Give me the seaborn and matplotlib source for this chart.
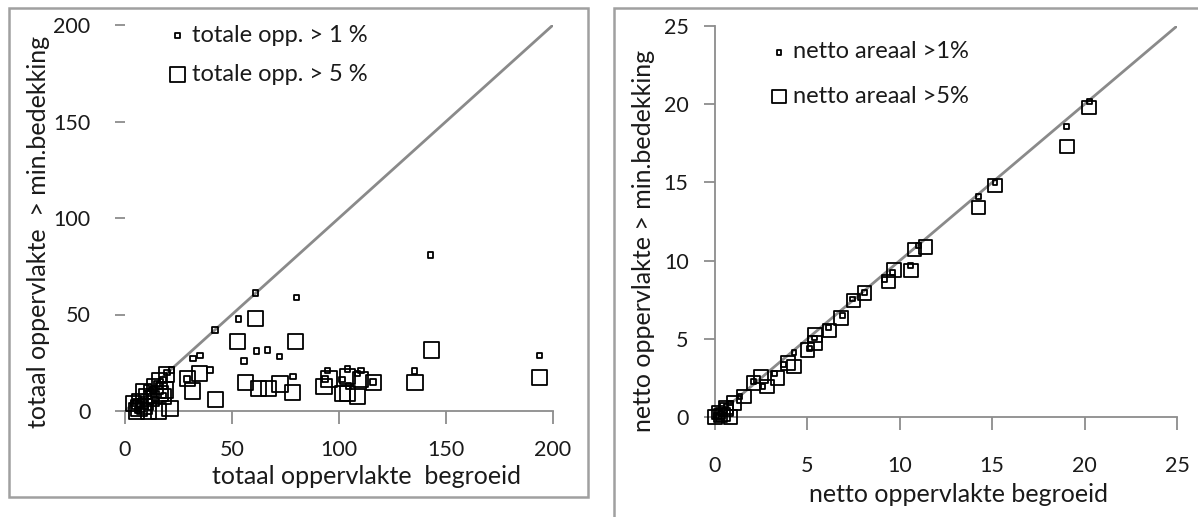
import matplotlib
matplotlib.use("Agg")
import matplotlib.pyplot as plt
import seaborn as sns
import pandas as pd
from matplotlib.patches import Rectangle

# ---------------- data ----------------
# left panel: totaal oppervlakte begroeid vs totaal oppervlakte > min.bedekking
left_x1 = [142.8, 61, 80.2, 53, 42, 61.5, 66.5, 55.6, 72.1, 31.8, 35, 78.4, 39.7, 29.1,
           94.7, 104, 110.3, 93.5, 101.5, 108.6, 116, 135.2, 104.4, 193.6, 19.5, 21.8,
           17.8, 15, 13, 11, 9, 7, 5, 4, 8, 12, 6, 14, 18, 10, 16]
left_y1 = [80.8, 61, 58.8, 47.7, 42, 31.2, 31.6, 25.9, 28.3, 27.3, 28.8, 17.8, 21.2, 16.6,
           20.9, 21.8, 20.9, 16.6, 16.4, 19.5, 14.9, 20.7, 13, 28.7, 20, 21.2,
           16, 14, 11, 9, 6, 3, 5, 4, 1, 2, 0.5, 6, 8, 12, 13]
left_x5 = [61, 52.6, 79.8, 143.3, 34.7, 29.1, 31.6, 42.4, 56.4, 67, 72.4, 78.4, 62.5,
           95.3, 103.9, 110, 116, 101.5, 108.6, 93, 103.9, 135.5, 193.6, 21, 19.5, 17.9,
           14, 10.1, 7, 3.9, 5.5, 10.9, 15.6, 16.4, 18.7, 12.5, 8.6, 16, 6.5, 9]
left_y5 = [48, 35.9, 35.9, 31.6, 19.5, 16.9, 10.4, 6.1, 14.9, 11.7, 14, 9.5, 11.5,
           16.6, 17.8, 16.4, 14.7, 9.2, 7.4, 12.6, 9.2, 14.7, 17.3, 1.4, 19, 7.4,
           12.6, 7.4, 4.8, 4, 0, 0, 0, 9.1, 10.9, 6.6, 10, 15.5, 1.5, 2.5]
left_diag = [0, 200]
left_ticks = [0, 50, 100, 150, 200]

# right panel: netto oppervlakte begroeid vs netto oppervlakte > min.bedekking
right_x1 = [20.25, 19.0, 14.27, 15.15, 11.0, 10.6, 9.6, 9.17, 8.1, 7.46, 6.9, 6.15, 5.4,
            5.1, 4.27, 3.7, 3.23, 2.6, 2.08, 1.35, 0.83, 0.1, 0.3, 0.5, 0.6, 0.2]
right_y1 = [20.17, 18.6, 14.1, 15.0, 10.95, 9.67, 9.26, 8.77, 7.96, 7.54, 6.47, 5.7, 5.05,
            4.4, 4.13, 3.34, 2.8, 1.96, 2.28, 1.32, 0.9, 0.1, 0.2, 0.4, 0.7, 0.05]
right_x5 = [20.25, 19.06, 14.27, 15.15, 10.8, 11.4, 10.6, 9.7, 9.4, 7.5, 8.1, 6.83, 6.2,
            5.42, 5.42, 5.0, 4.27, 3.96, 3.38, 2.81, 2.5, 2.08, 1.56, 1.04, 0.63, 0.42,
            0.0, 0.83, 0.3, 0.6, 0.2]
right_y5 = [19.8, 17.3, 13.4, 14.8, 10.7, 10.86, 9.37, 9.4, 8.67, 7.45, 7.92, 6.32, 5.54,
            5.26, 4.73, 4.3, 3.24, 3.45, 2.49, 1.96, 2.6, 2.17, 1.32, 0.9, 0.47, 0.15,
            0.0, 0.0, 0.1, 0.6, 0.3]
right_diag = [0, 25]
right_ticks = [0, 5, 10, 15, 20, 25]

# ---------------- style ----------------
sns.set_theme(style="white")
plt.rcParams['font.family'] = ['Lato', 'DejaVu Sans']
TEXT = "#1a1a1a"
AXC = "#8c8c8c"
TICK_FS = 15.5
LABEL_FS = 18
LEG_FS = 17

W, H = 1198, 517
fig = plt.figure(figsize=(W / 100, H / 100), dpi=100)
fig.patch.set_facecolor("white")

def fx(px):
    return px / W

def fy(py):
    return 1 - py / H

# panel frames
fig.patches.append(Rectangle((fx(9), fy(497)), fx(588) - fx(9), fy(8) - fy(497),
                             transform=fig.transFigure, fill=False, edgecolor="#a0a0a0", lw=1.8))
fig.patches.append(Rectangle((fx(614), fy(530)), fx(1220) - fx(614), fy(8) - fy(530),
                             transform=fig.transFigure, fill=False, edgecolor="#a0a0a0", lw=1.8))

axL = fig.add_axes([fx(125), fy(411), fx(553) - fx(125), fy(25) - fy(411)])
axR = fig.add_axes([fx(715), fy(417), fx(1177) - fx(715), fy(26) - fy(417)])

def scatter(ax, x, y, s, label, lw):
    df = pd.DataFrame({"x": x, "y": y})
    sns.scatterplot(data=df, x="x", y="y", ax=ax, marker="s", s=s,
                    facecolor="none", edgecolor="black", linewidth=lw,
                    label=label, clip_on=False, zorder=3)

# left panel
axL.plot(left_diag, left_diag, color="#8a8a8a", lw=2.0, zorder=2, solid_capstyle="butt")
scatter(axL, left_x1, left_y1, 16, "totale opp. > 1 %", 1.3)
scatter(axL, left_x5, left_y5, 120, "totale opp. > 5 %", 1.3)
axL.set_xlim(0, 200)
axL.set_ylim(0, 200)
axL.set_xticks(left_ticks)
axL.set_yticks(left_ticks)
for s in ["top", "right", "left"]:
    axL.spines[s].set_visible(False)
axL.spines["bottom"].set_color(AXC)
axL.spines["bottom"].set_linewidth(1.3)
axL.tick_params(axis="x", direction="out", length=9, width=1.3, color=AXC, pad=12,
                labelsize=TICK_FS, labelcolor=TEXT, bottom=True)
axL.tick_params(axis="y", direction="out", length=7, width=1.3, color=AXC, pad=18,
                labelsize=TICK_FS, labelcolor=TEXT, left=True)
axL.set_xlabel("totaal oppervlakte  begroeid", fontsize=LABEL_FS, color=TEXT)
axL.xaxis.set_label_coords(0.565, -0.14)
axL.set_ylabel("totaal oppervlakte  > min.bedekking", fontsize=LABEL_FS, color=TEXT)
axL.yaxis.set_label_coords(-0.175, 0.465)
legL = axL.legend(loc="upper left", bbox_to_anchor=(0.07, 1.025), frameon=False,
                  fontsize=LEG_FS, labelspacing=0.75, handletextpad=0.05, handlelength=1.1,
                  borderaxespad=0)
for t in legL.get_texts():
    t.set_color(TEXT)

# right panel
axR.plot(right_diag, right_diag, color="#8a8a8a", lw=2.0, zorder=2, solid_capstyle="butt")
scatter(axR, right_x1, right_y1, 12, "netto areaal >1%", 1.3)
scatter(axR, right_x5, right_y5, 95, "netto areaal >5%", 1.3)
axR.set_xlim(0, 25)
axR.set_ylim(0, 25)
axR.set_xticks(right_ticks)
axR.set_yticks(right_ticks)
for s in ["top", "right"]:
    axR.spines[s].set_visible(False)
for s in ["bottom", "left"]:
    axR.spines[s].set_color(AXC)
    axR.spines[s].set_linewidth(1.3)
axR.tick_params(axis="x", direction="out", length=9, width=1.3, color=AXC, pad=19,
                labelsize=TICK_FS, labelcolor=TEXT, bottom=True)
axR.tick_params(axis="y", direction="out", length=8, width=1.3, color=AXC, pad=11,
                labelsize=TICK_FS, labelcolor=TEXT, left=True)
axR.set_xlabel("netto oppervlakte begroeid", fontsize=LABEL_FS, color=TEXT)
axR.xaxis.set_label_coords(0.528, -0.17)
axR.set_ylabel("netto oppervlakte > min.bedekking", fontsize=LABEL_FS, color=TEXT)
axR.yaxis.set_label_coords(-0.13, 0.45)
legR = axR.legend(loc="upper left", bbox_to_anchor=(0.09, 0.985), frameon=False,
                  fontsize=LEG_FS, labelspacing=1.0, handletextpad=0.05, handlelength=1.1,
                  borderaxespad=0)
for t in legR.get_texts():
    t.set_color(TEXT)

fig.savefig("out.png", dpi=100, facecolor="white")
